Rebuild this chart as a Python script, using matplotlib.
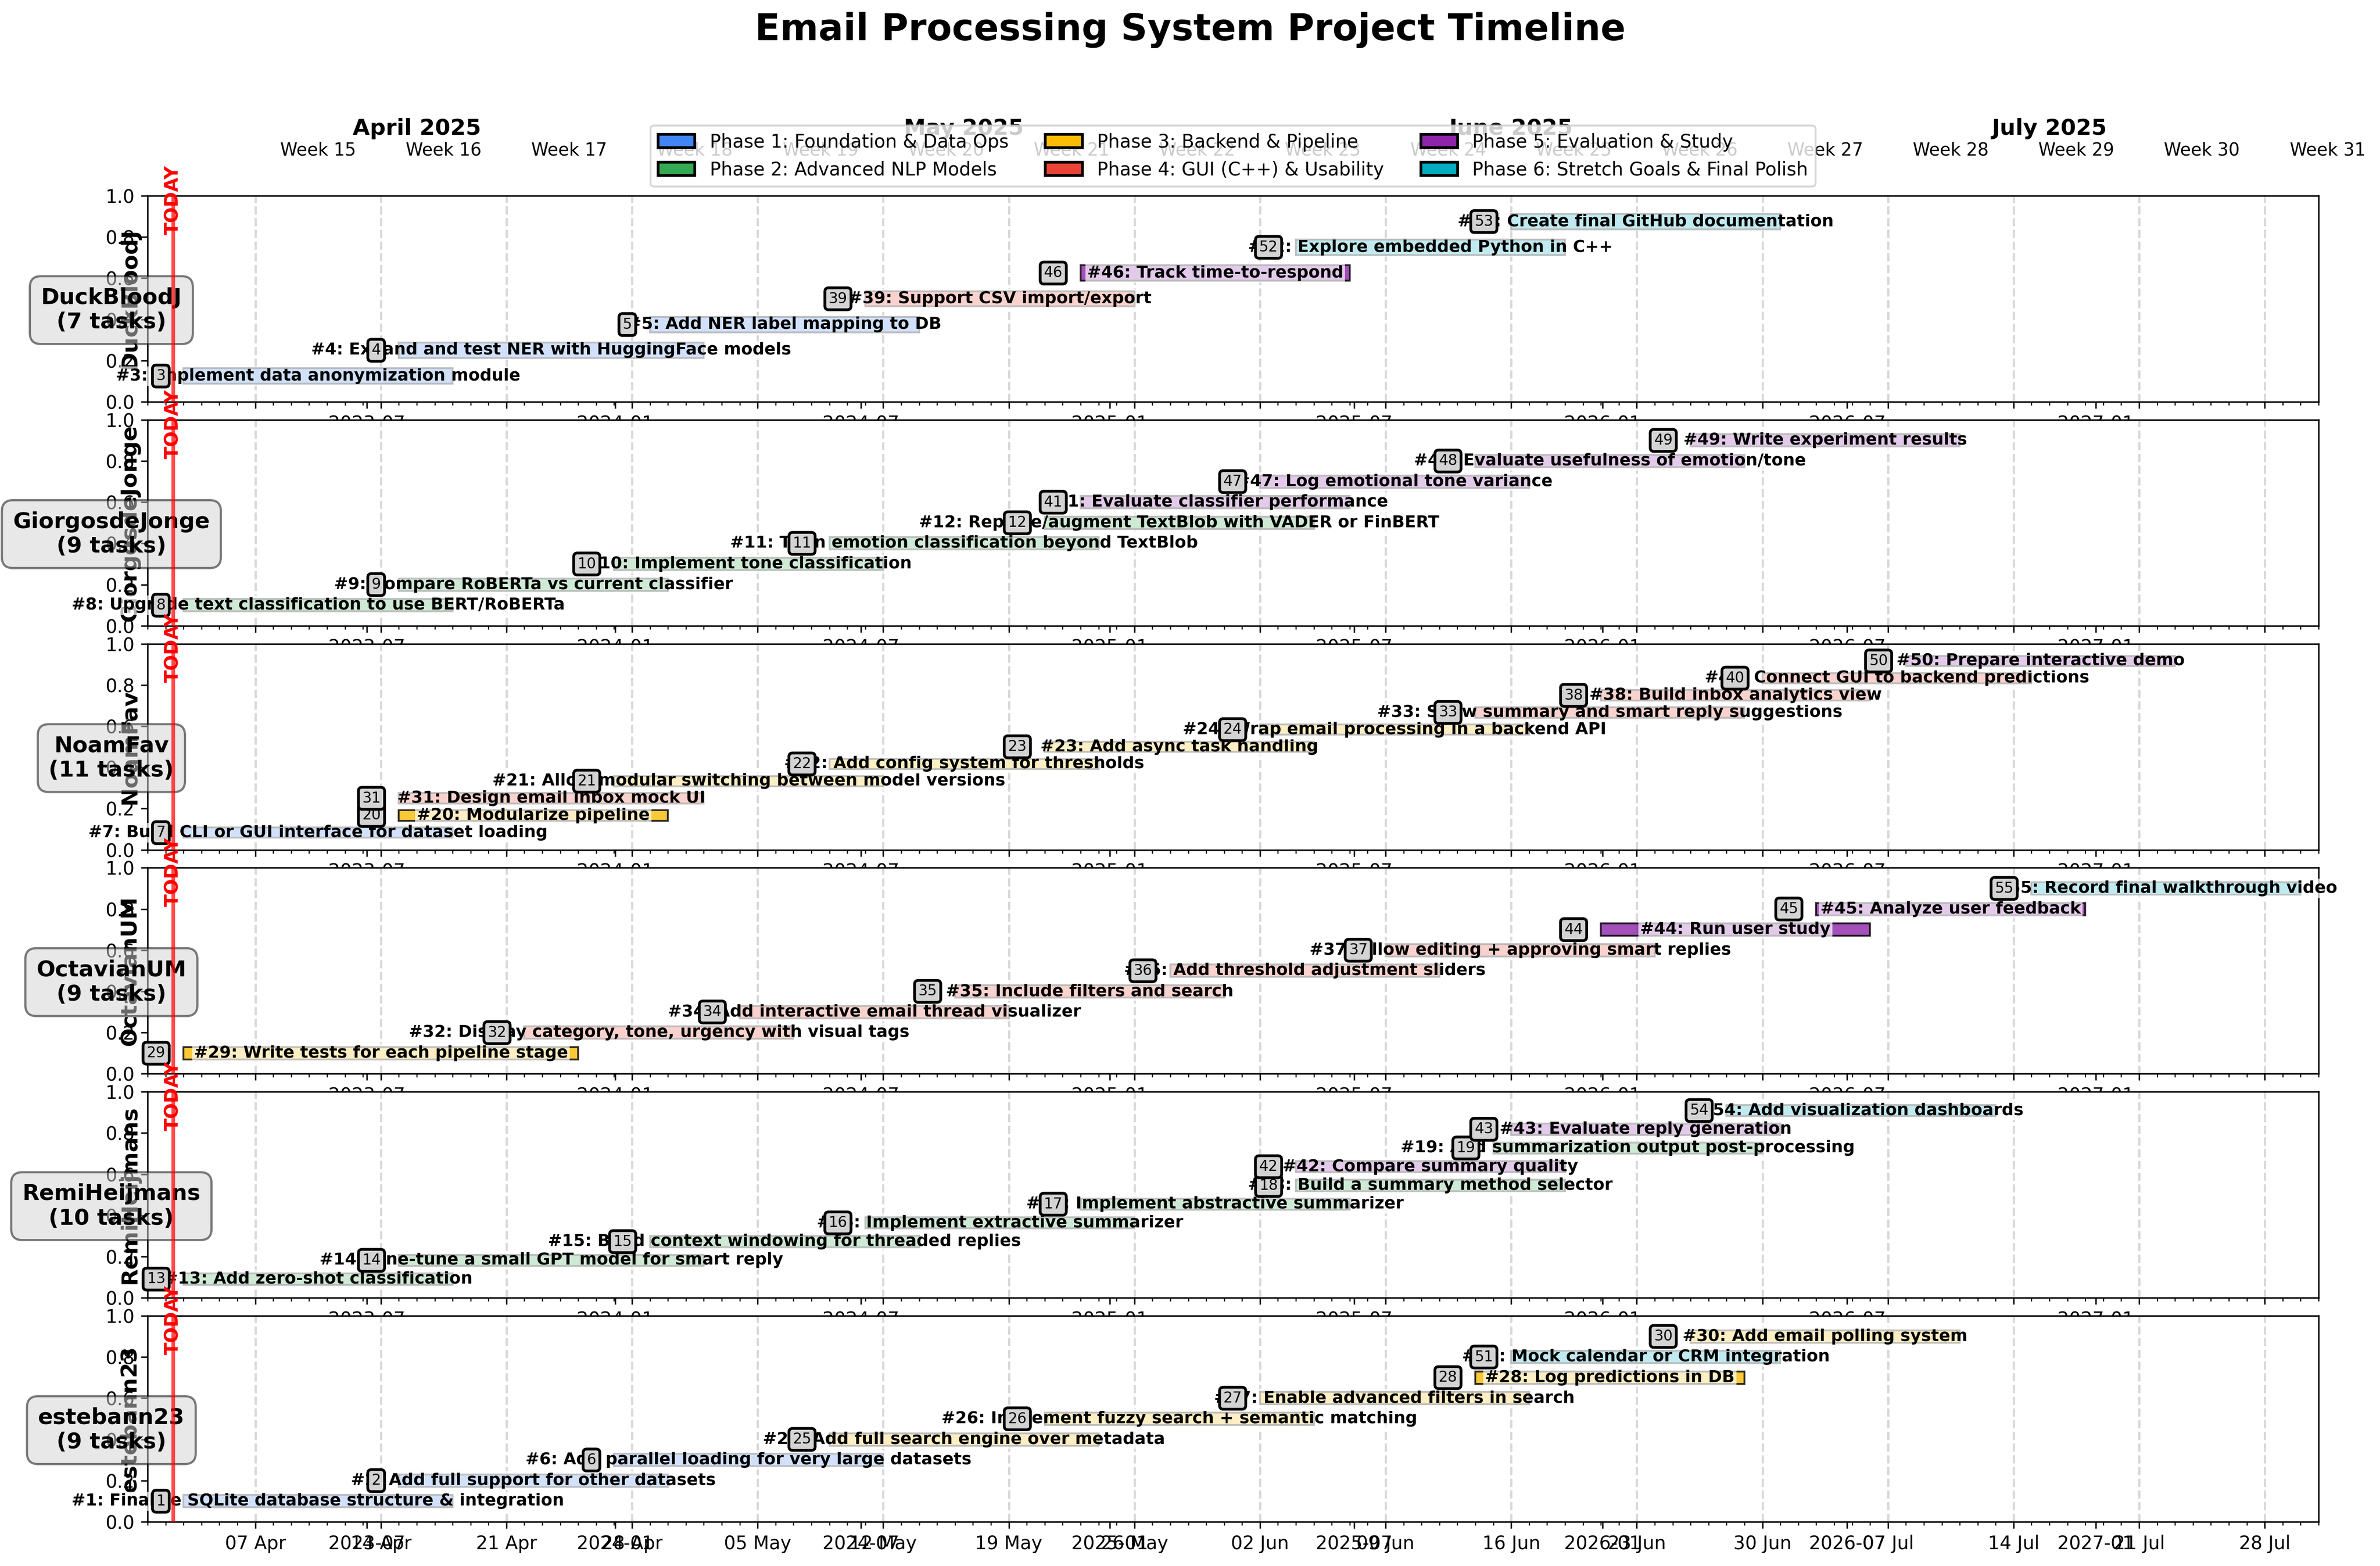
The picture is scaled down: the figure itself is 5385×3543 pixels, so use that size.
import matplotlib
matplotlib.use('Agg')
import matplotlib.pyplot as plt
import matplotlib.dates as mdates
import matplotlib.patches as mpatches
import matplotlib.transforms as mtransforms
from datetime import datetime, timedelta

# phases
phase_names = ['Phase 1: Foundation & Data Ops', 'Phase 2: Advanced NLP Models',
               'Phase 3: Backend & Pipeline', 'Phase 4: GUI (C++) & Usability',
               'Phase 5: Evaluation & Study', 'Phase 6: Stretch Goals & Final Polish']
phase_colors = ['#4285F4', '#34A853', '#FBBC05', '#EA4335', '#8E24AA', '#00ACC1']

# tasks (issue number -> title, phase, start, end)
task_ids = list(range(1, 56))
task_titles = [
    'Finalize SQLite database structure & integration',
    'Add full support for other datasets',
    'Implement data anonymization module',
    'Expand and test NER with HuggingFace models',
    'Add NER label mapping to DB',
    'Add parallel loading for very large datasets',
    'Build CLI or GUI interface for dataset loading',
    'Upgrade text classification to use BERT/RoBERTa',
    'Compare RoBERTa vs current classifier',
    'Implement tone classification',
    'Train emotion classification beyond TextBlob',
    'Replace/augment TextBlob with VADER or FinBERT',
    'Add zero-shot classification',
    'Fine-tune a small GPT model for smart reply',
    'Build context windowing for threaded replies',
    'Implement extractive summarizer',
    'Implement abstractive summarizer',
    'Build a summary method selector',
    'Add summarization output post-processing',
    'Modularize pipeline',
    'Allow modular switching between model versions',
    'Add config system for thresholds',
    'Add async task handling',
    'Wrap email processing in a backend API',
    'Add full search engine over metadata',
    'Implement fuzzy search + semantic matching',
    'Enable advanced filters in search',
    'Log predictions in DB',
    'Write tests for each pipeline stage',
    'Add email polling system',
    'Design email inbox mock UI',
    'Display category, tone, urgency with visual tags',
    'Show summary and smart reply suggestions',
    'Add interactive email thread visualizer',
    'Include filters and search',
    'Add threshold adjustment sliders',
    'Allow editing + approving smart replies',
    'Build inbox analytics view',
    'Support CSV import/export',
    'Connect GUI to backend predictions',
    'Evaluate classifier performance',
    'Compare summary quality',
    'Evaluate reply generation',
    'Run user study',
    'Analyze user feedback',
    'Track time-to-respond',
    'Log emotional tone variance',
    'Evaluate usefulness of emotion/tone',
    'Write experiment results',
    'Prepare interactive demo',
    'Mock calendar or CRM integration',
    'Explore embedded Python in C++',
    'Create final GitHub documentation',
    'Add visualization dashboards',
    'Record final walkthrough video',
]
task_phase = [1, 1, 1, 1, 1, 1, 1,
              2, 2, 2, 2, 2, 2, 2, 2, 2, 2, 2, 2,
              3, 3, 3, 3, 3, 3, 3, 3, 3, 3, 3,
              4, 4, 4, 4, 4, 4, 4, 4, 4, 4,
              5, 5, 5, 5, 5, 5, 5, 5, 5, 5,
              6, 6, 6, 6, 6]
task_start = ['2025-04-03', '2025-04-15', '2025-04-03', '2025-04-15', '2025-04-29',
              '2025-04-27', '2025-04-03', '2025-04-03', '2025-04-15', '2025-04-27',
              '2025-05-09', '2025-05-21', '2025-04-03', '2025-04-15', '2025-04-29',
              '2025-05-11', '2025-05-23', '2025-06-04', '2025-06-15', '2025-04-15',
              '2025-04-27', '2025-05-09', '2025-05-21', '2025-06-02', '2025-05-09',
              '2025-05-21', '2025-06-02', '2025-06-14', '2025-04-03', '2025-06-26',
              '2025-04-15', '2025-04-22', '2025-06-14', '2025-05-04', '2025-05-16',
              '2025-05-28', '2025-06-09', '2025-06-21', '2025-05-11', '2025-06-30',
              '2025-05-23', '2025-06-04', '2025-06-16', '2025-06-21', '2025-07-03',
              '2025-05-23', '2025-06-02', '2025-06-14', '2025-06-26', '2025-07-08',
              '2025-06-16', '2025-06-04', '2025-06-16', '2025-06-28', '2025-07-15']
task_end = ['2025-04-18', '2025-04-30', '2025-04-18', '2025-05-02', '2025-05-14',
            '2025-05-12', '2025-04-18', '2025-04-18', '2025-04-30', '2025-05-12',
            '2025-05-24', '2025-06-05', '2025-04-18', '2025-05-02', '2025-05-14',
            '2025-05-26', '2025-06-07', '2025-06-19', '2025-06-30', '2025-04-30',
            '2025-05-12', '2025-05-24', '2025-06-05', '2025-06-17', '2025-05-24',
            '2025-06-05', '2025-06-17', '2025-06-29', '2025-04-25', '2025-07-11',
            '2025-05-02', '2025-05-07', '2025-06-29', '2025-05-19', '2025-05-31',
            '2025-06-12', '2025-06-24', '2025-07-06', '2025-05-26', '2025-07-15',
            '2025-06-07', '2025-06-19', '2025-07-01', '2025-07-06', '2025-07-18',
            '2025-06-07', '2025-06-17', '2025-06-29', '2025-07-11', '2025-07-23',
            '2025-07-01', '2025-06-19', '2025-07-01', '2025-07-13', '2025-07-30']

# assignees and their tasks, bottom lane first
people = ['DuckBloodJ', 'GiorgosdeJonge', 'NoamFav', 'OctavianUM', 'RemiHeijmans', 'estebann23']
people_tasks = [
    [3, 4, 5, 39, 46, 52, 53],
    [8, 9, 10, 11, 12, 41, 47, 48, 49],
    [7, 20, 31, 21, 22, 23, 24, 33, 38, 40, 50],
    [29, 32, 34, 35, 36, 37, 44, 45, 55],
    [13, 14, 15, 16, 17, 18, 42, 19, 43, 54],
    [1, 2, 6, 25, 26, 27, 28, 51, 30],
]

today = datetime(2025, 4, 2, 10, 0)
view_start = datetime(2025, 4, 1)
view_end = datetime(2025, 7, 31)

W, H = 5385, 3543
fig = plt.figure(figsize=(W / 300, H / 300), dpi=300)

ax_left, ax_width = 334, 4912
ax_top0, ax_h, ax_pitch = 443, 466, 506.8

def d(s):
    return datetime.strptime(s, '%Y-%m-%d')

mains = []
for k, person in enumerate(people):
    top = ax_top0 + ax_pitch * k
    rect = [ax_left / W, 1 - (top + ax_h) / H, ax_width / W, ax_h / H]

    # the stray date axis with 0..1 y ticks
    ov = fig.add_axes(rect, label='ov%d' % k)
    ov.patch.set_alpha(0)
    span = timedelta(days=730.5 * 1.1)
    ov.set_xlim(today - span, today + span)

    ax = fig.add_axes(rect, label='main%d' % k, sharex=mains[0] if mains else None)
    mains.append(ax)
    ids = people_tasks[k]
    n = len(ids)
    ax.set_xlim(view_start, view_end)
    ax.set_ylim(0, n + 1)
    ax.set_yticks([])
    ax.set_ylabel(person, fontsize=12, fontweight='bold')
    ax.set_axisbelow(True)
    ax.grid(True, axis='x', which='major', linestyle='--', color='gray', alpha=0.3, linewidth=1.2)

    for lane, tid in enumerate(ids, start=1):
        i = tid - 1
        s, e = d(task_start[i]), d(task_end[i])
        c = phase_colors[task_phase[i] - 1]
        left = mdates.date2num(s)
        width = mdates.date2num(e) - left
        ax.barh(lane, width, left=left, height=0.6, color=c, alpha=0.8,
                edgecolor='black', linewidth=1)
        ax.text(left + width / 2, lane, '#%d: %s' % (tid, task_titles[i]),
                ha='center', va='center', fontsize=9, fontweight='bold', zorder=4,
                bbox=dict(boxstyle='square,pad=0.1', facecolor='white', alpha=0.7, edgecolor='none'))
        ax.text(left - 1, lane, str(tid), ha='right', va='center', fontsize=8, zorder=6,
                bbox=dict(boxstyle='round,pad=0.25', facecolor='lightgray', edgecolor='black', linewidth=1.5))

    ax.axvline(today, color='red', linewidth=2, alpha=0.7, zorder=10)
    trans = mtransforms.blended_transform_factory(ax.transData, ax.transAxes)
    ax.text(today, 0.98, 'TODAY', transform=trans, rotation=90, color='red',
            fontsize=10, fontweight='bold', ha='center', va='center', zorder=10)

    ax.text(-0.0167, 0.445, '%s\n(%d tasks)' % (person, n), transform=ax.transAxes,
            ha='center', va='center', multialignment='center', fontsize=12, fontweight='bold',
            bbox=dict(boxstyle='round,pad=0.5', facecolor='lightgray', alpha=0.5,
                      edgecolor='black', linewidth=1.2))

    ax.tick_params(axis='x', labelbottom=(k == len(people) - 1))

mains[0].xaxis.set_major_locator(mdates.WeekdayLocator(byweekday=mdates.MO))
mains[0].xaxis.set_major_formatter(mdates.DateFormatter('%d %b'))
mains[0].xaxis.set_minor_locator(mdates.DayLocator())

# header: months and weeks above the first panel
ax0 = mains[0]
trans0 = mtransforms.blended_transform_factory(ax0.transData, ax0.transAxes)
m = datetime(2025, 4, 1)
while m <= view_end:
    nxt = datetime(m.year + (m.month == 12), m.month % 12 + 1, 1)
    a, b = max(m, view_start), min(nxt, view_end)
    mid = mdates.date2num(a) + (mdates.date2num(b) - mdates.date2num(a)) / 2
    ax0.text(mid, 1.326, m.strftime('%B %Y'), transform=trans0, ha='center', va='center',
             fontsize=12, fontweight='bold', clip_on=False)
    m = nxt
wk = datetime(2025, 4, 7)
while wk <= view_end:
    ax0.text(mdates.date2num(wk) + 3.5, 1.221, 'Week %d' % wk.isocalendar()[1], transform=trans0,
             ha='center', va='center', fontsize=9.5, clip_on=False)
    wk += timedelta(days=7)

handles = [mpatches.Patch(facecolor=c, edgecolor='black', linewidth=1.5, label=p)
           for p, c in zip(phase_names, phase_colors)]
ax0.legend(handles=handles, loc='lower center', bbox_to_anchor=(0.5, 1.0), ncol=3, fontsize=10)

fig.suptitle('Email Processing System Project Timeline', fontsize=20, fontweight='bold',
             y=1 - 68 / H, va='center')

fig.savefig('out.png', dpi=300)
